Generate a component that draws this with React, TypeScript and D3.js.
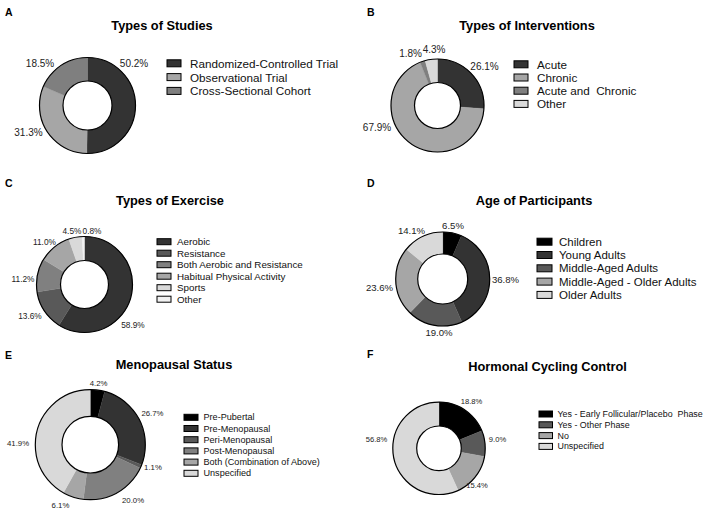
import React from "react";
import * as d3 from "d3";

// ---------- DATA ----------
const studyTypes = ["Randomized-Controlled Trial", "Observational Trial", "Cross-Sectional Cohort"];
const studyValues = [50.2, 31.3, 18.5];

const interventionTypes = ["Acute", "Chronic", "Acute and  Chronic", "Other"];
const interventionValues = [26.1, 67.9, 1.8, 4.3];

const exerciseTypes = ["Aerobic", "Resistance", "Both Aerobic and Resistance", "Habitual Physical Activity", "Sports", "Other"];
const exerciseValues = [58.9, 13.6, 11.2, 11.0, 4.5, 0.8];

const ageGroups = ["Children", "Young Adults", "Middle-Aged Adults", "Middle-Aged - Older Adults", "Older Adults"];
const ageValues = [6.5, 36.8, 19.0, 23.6, 14.1];

const menopausalGroups = ["Pre-Pubertal", "Pre-Menopausal", "Peri-Menopausal", "Post-Menopausal", "Both (Combination of Above)", "Unspecified"];
const menopausalValues = [4.2, 26.7, 1.1, 20.0, 6.1, 41.9];

const hormonalGroups = ["Yes - Early Follicular/Placebo  Phase", "Yes - Other Phase", "No", "Unspecified"];
const hormonalValues = [18.8, 9.0, 15.4, 56.8];

// ---------- LAYOUT / STYLE ----------
const FONT = "'Liberation Sans', Arial, Helvetica, sans-serif";

type Panel = {
  letter: string;
  title: string;
  cats: string[];
  vals: number[];
  colors: string[];
  cx: number; cy: number; r: number; ir: number;
  letterX: number; letterY: number;
  titleX: number; titleY: number;
  boxX: number; boxW: number; boxH: number; textX: number;
  legY0: number; legDy: number; legFont: number;
  pctFont: number;
  labAng: number[]; labDist: number[];
};

const panels: Panel[] = [
  {
    letter: "A", title: "Types of Studies", cats: studyTypes, vals: studyValues,
    colors: ["#333333", "#a6a6a6", "#7f7f7f"],
    cx: 87.5, cy: 105.5, r: 48, ir: 24.5,
    letterX: 5, letterY: 15.5, titleX: 162, titleY: 29.5,
    boxX: 167, boxW: 14, boxH: 7, textX: 190, legY0: 63.3, legDy: 13.8, legFont: 11.7,
    pctFont: 10,
    labAng: [47.6, 245.8, 311.8], labDist: [63, 64.7, 63.7],
  },
  {
    letter: "B", title: "Types of Interventions", cats: interventionTypes, vals: interventionValues,
    colors: ["#333333", "#a6a6a6", "#7f7f7f", "#d9d9d9"],
    cx: 437.5, cy: 105.5, r: 46.5, ir: 23,
    letterX: 367, letterY: 15.5, titleX: 527, titleY: 29.5,
    boxX: 514, boxW: 14, boxH: 7, textX: 537, legY0: 64.3, legDy: 13.2, legFont: 11.7,
    pctFont: 10,
    labAng: [50.7, 249.6, 332.8, 356.5], labDist: [60.8, 64.5, 59, 56.6],
  },
  {
    letter: "C", title: "Types of Exercise", cats: exerciseTypes, vals: exerciseValues,
    colors: ["#333333", "#595959", "#808080", "#a6a6a6", "#d9d9d9", "#f2f2f2"],
    cx: 84.5, cy: 284.5, r: 48, ir: 24,
    letterX: 5, letterY: 186.5, titleX: 170, titleY: 205,
    boxX: 157, boxW: 14, boxH: 6, textX: 177, legY0: 241.7, legDy: 11.5, legFont: 9.8,
    pctFont: 8.3,
    labAng: [129.9, 240, 275.1, 316.7, 346.8, 8.0], labDist: [63.2, 63, 61.7, 58.4, 55, 54],
  },
  {
    letter: "D", title: "Age of Participants", cats: ageGroups, vals: ageValues,
    colors: ["#000000", "#333333", "#595959", "#a6a6a6", "#d9d9d9"],
    cx: 442.7, cy: 279, r: 47, ir: 25,
    letterX: 367, letterY: 186.5, titleX: 534, titleY: 204.5,
    boxX: 537, boxW: 15, boxH: 7, textX: 559, legY0: 241.7, legDy: 13.3, legFont: 11.5,
    pctFont: 9.6,
    labAng: [11, 90, 183.9, 261.9, 327.5], labDist: [54, 62.8, 54.1, 63.8, 58],
  },
  {
    letter: "E", title: "Menopausal Status", cats: menopausalGroups, vals: menopausalValues,
    colors: ["#000000", "#333333", "#595959", "#808080", "#a6a6a6", "#d9d9d9"],
    cx: 90.3, cy: 444.7, r: 55, ir: 28.3,
    letterX: 5, letterY: 358.5, titleX: 174, titleY: 369,
    boxX: 184, boxW: 14, boxH: 6, textX: 203.5, legY0: 417.3, legDy: 11.2, legFont: 9.1,
    pctFont: 7.8,
    labAng: [7.6, 63, 109.6, 142.3, 206.3, 271.3], labDist: [62.2, 69.8, 66.5, 69.9, 67.3, 72.3],
  },
  {
    letter: "F", title: "Hormonal Cycling Control", cats: hormonalGroups, vals: hormonalValues,
    colors: ["#000000", "#595959", "#a6a6a6", "#d9d9d9"],
    cx: 439, cy: 448.3, r: 46.2, ir: 22.3,
    letterX: 367, letterY: 357.5, titleX: 547.5, titleY: 370.5,
    boxX: 539, boxW: 13.5, boxH: 6, textX: 557.5, legY0: 414, legDy: 10.8, legFont: 8.9,
    pctFont: 7.6,
    labAng: [35.1, 81.9, 134.8, 277.6], labDist: [56.6, 59.1, 53.5, 63],
  },
];

function Donut({ p }: { p: Panel }) {
  const pie = d3.pie<number>().sort(null).value((d) => d).startAngle(0).endAngle(2 * Math.PI);
  const arcs = pie(p.vals);
  const arc = d3.arc<d3.PieArcDatum<number>>().innerRadius(p.ir).outerRadius(p.r);
  return (
    <g>
      <text x={p.letterX} y={p.letterY} fontFamily={FONT} fontWeight="bold" fontSize={10.5} fill="#000">
        {p.letter}
      </text>
      <text x={p.titleX} y={p.titleY} textAnchor="middle" fontFamily={FONT} fontWeight="bold" fontSize={12.8} fill="#000">
        {p.title}
      </text>
      <g transform={`translate(${p.cx},${p.cy})`}>
        {arcs.map((a, i) => (
          <path key={i} d={arc(a) || ""} fill={p.colors[i]} stroke={p.colors[i]} strokeWidth={0.3} />
        ))}
        <circle r={p.r} fill="none" stroke="#000" strokeWidth={1.2} />
        <circle r={p.ir} fill="#fff" stroke="#000" strokeWidth={1.2} />
      </g>
      {p.vals.map((v, i) => {
        const th = (p.labAng[i] * Math.PI) / 180;
        const x = p.cx + p.labDist[i] * Math.sin(th);
        const y = p.cy - p.labDist[i] * Math.cos(th);
        return (
          <text key={i} x={x} y={y} textAnchor="middle" dominantBaseline="central" fontFamily={FONT} fontSize={p.pctFont} fill="#222">
            {v.toFixed(1) + "%"}
          </text>
        );
      })}
      {p.cats.map((c, i) => {
        const yc = p.legY0 + i * p.legDy;
        return (
          <g key={i}>
            <rect x={p.boxX} y={yc - p.boxH / 2} width={p.boxW} height={p.boxH} fill={p.colors[i]} stroke="#000" strokeWidth={1} />
            <text x={p.textX} y={yc} dominantBaseline="central" fontFamily={FONT} fontSize={p.legFont} fill="#111" style={{ whiteSpace: "pre" }}>
              {c}
            </text>
          </g>
        );
      })}
    </g>
  );
}

export default function App() {
  return (
    <svg width={708} height={514} style={{ position: "absolute", left: 0, top: 0, background: "#fff" }}>
      <rect width={708} height={514} fill="#fff" />
      {panels.map((p) => (
        <Donut key={p.letter} p={p} />
      ))}
    </svg>
  );
}
